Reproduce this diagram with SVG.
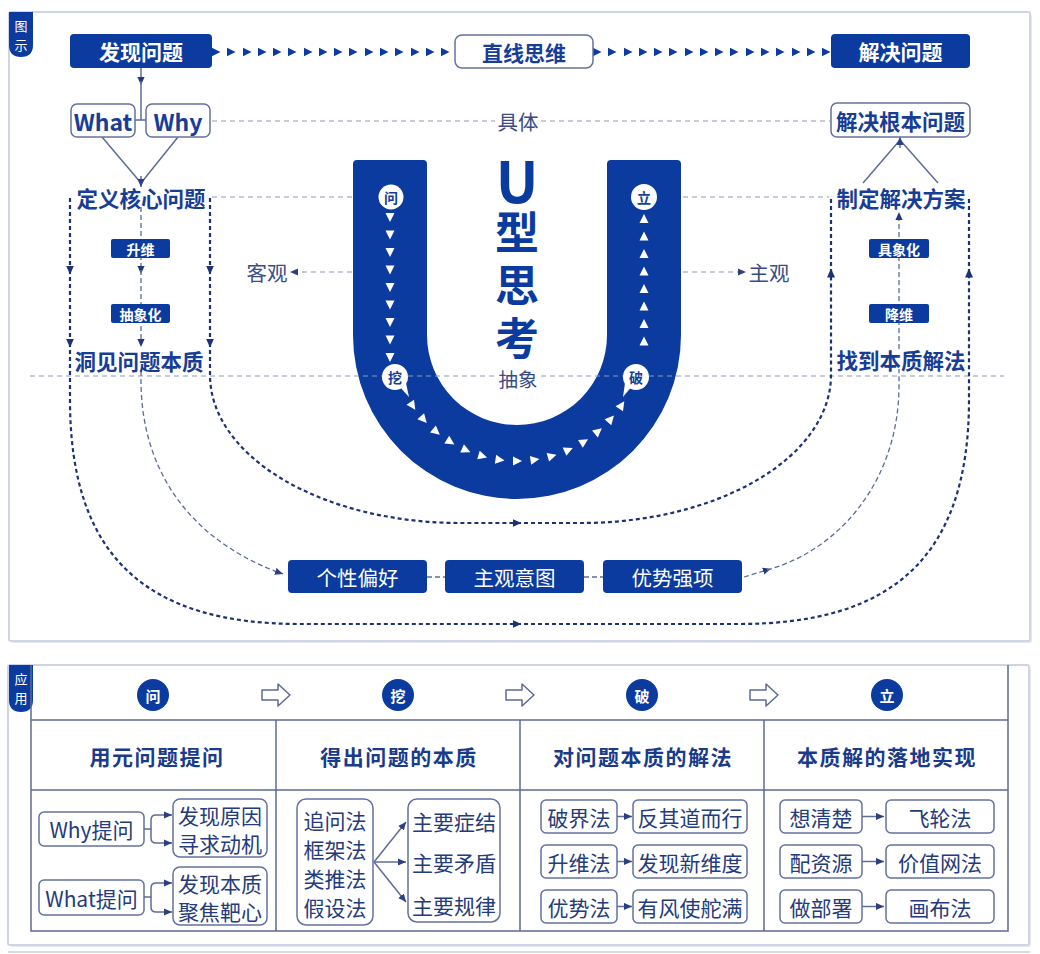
<svg xmlns="http://www.w3.org/2000/svg" width="1040" height="954" viewBox="0 0 1040 954">
<style>
text{font-family:"Noto Sans CJK SC","Noto Sans",sans-serif;text-anchor:middle;dominant-baseline:central}
.blue{fill:#0b3b9f}
.wtx{fill:#fff}
.b{font-weight:700}
.bt{fill:#173d96;font-weight:700;font-size:21.5px}
.gt{fill:#3b4c84;font-size:20.5px}
.wbox{fill:#fff;stroke:#6371a0;stroke-width:1.5}
.heavy{fill:none;stroke:#1d3272;stroke-width:2.2;stroke-dasharray:4 3}
.thin{fill:none;stroke:#5d6d98;stroke-width:1.3;stroke-dasharray:5 3}
.guide{fill:none;stroke:#8f99b7;stroke-width:1.2;stroke-dasharray:5 4}
.solid{fill:none;stroke:#5f6c98;stroke-width:1.5}
.chain{fill:none;stroke:none;marker-start:url(#tri);marker-mid:url(#tri);marker-end:url(#tri)}
.tbl{fill:none;stroke:#5c6a93;stroke-width:1.5}
.ct{fill:#243b7c;font-size:21px}
.ht{fill:#1a3a8a;font-weight:700;font-size:21px;letter-spacing:1.5px}
.panel{fill:#fff;stroke:#cfd5e7;stroke-width:2}
.shadow{fill:#e6e9f3}
.circ{fill:#fff}
.ctx{fill:#173d96;font-weight:700;font-size:14px}
.vt{writing-mode:vertical-rl;text-orientation:upright;text-anchor:start;dominant-baseline:central}
</style>
<defs>
<marker id="tri" viewBox="0 0 10 10" refX="5" refY="5" markerWidth="9" markerHeight="10" markerUnits="userSpaceOnUse" orient="auto"><path d="M0,0 L10,5 L0,10 Z" fill="#0b3b9f"/></marker>
<marker id="ah" viewBox="0 0 10 10" refX="5" refY="5" markerWidth="9" markerHeight="9" markerUnits="userSpaceOnUse" orient="auto"><path d="M0,0.5 L10,5 L0,9.5 Z" fill="#1d3272"/></marker>
<marker id="am" viewBox="0 0 10 10" refX="5" refY="5" markerWidth="8" markerHeight="8" markerUnits="userSpaceOnUse" orient="auto"><path d="M0,0.5 L10,5 L0,9.5 Z" fill="#23397c"/></marker>
<marker id="as" viewBox="0 0 10 10" refX="10" refY="5" markerWidth="8" markerHeight="8" markerUnits="userSpaceOnUse" orient="auto"><path d="M0,0.5 L10,5 L0,9.5 Z" fill="#2c3f80"/></marker>
<polygon id="wt" points="-4,-4.5 5,0 -4,4.5" fill="#fff"/>
<polygon id="wd" points="-4.5,-4 4.5,-4 0,5" fill="#fff"/>
<polygon id="wu" points="-4.5,4 4.5,4 0,-5" fill="#fff"/>
<polygon id="hol" points="-14,-5 2,-5 2,-11 14,0 2,11 2,5 -14,5" fill="#fff" stroke="#5c6a93" stroke-width="1.5" stroke-linejoin="round"/>
</defs>

<rect width="1040" height="954" fill="#fff"/>

<!-- top panel -->
<g id="panel-top">
<rect class="shadow" x="11" y="14" width="1021" height="629" rx="2"/>
<rect class="panel" x="9" y="12" width="1021" height="629" rx="2"/>
<path class="blue" d="M9,12 H33 V45 Q33,57 21,57 Q9,57 9,45 Z"/>
<text class="wtx" x="21" y="25" font-size="13">图</text>
<text class="wtx" x="21" y="44" font-size="13">示</text>
</g>

<!-- guides -->
<g id="guides">
<path class="guide" d="M212,121 H495 M541,121 H830"/>
<text class="gt" x="518" y="121">具体</text>
<path class="guide" d="M212,197 H380 M656,197 H829"/>
<path class="guide" d="M352,272 H290" marker-end="url(#as)"/>
<text class="gt" x="267" y="272">客观</text>
<path class="guide" d="M683,272 H746" marker-end="url(#as)"/>
<text class="gt" x="769" y="272">主观</text>
</g>

<!-- U shape -->
<g id="u-shape">
<path class="blue" d="M353,164 Q353,160 357,160 L423,160 Q427,160 427,164 L427,335 A90,90 0 0 0 607,335 L607,164 Q607,160 611,160 L677,160 Q681,160 681,164 L681,335 A164,164 0 0 1 353,335 Z"/>
<text class="b vt" x="517" y="153" fill="#0b3b9f"><tspan font-size="57">U</tspan><tspan font-size="44">型</tspan><tspan font-size="44" dy="9">思</tspan><tspan font-size="44" dy="9">考</tspan></text>
<use href="#wd" x="390" y="217"/><use href="#wd" x="390" y="234.5"/><use href="#wd" x="390" y="252"/>
<use href="#wd" x="390" y="269.5"/><use href="#wd" x="390" y="287"/><use href="#wd" x="390" y="304.5"/>
<use href="#wd" x="390" y="322"/><use href="#wd" x="390" y="339.5"/><use href="#wd" x="390" y="357"/>
<use href="#wu" x="644" y="219"/><use href="#wu" x="644" y="236.5"/><use href="#wu" x="644" y="254"/>
<use href="#wu" x="644" y="271.5"/><use href="#wu" x="644" y="289"/><use href="#wu" x="644" y="306.5"/>
<use href="#wu" x="644" y="324"/><use href="#wu" x="644" y="341.5"/>
<use href="#wt" transform="translate(412.5,405.5) rotate(56)"/>
<use href="#wt" transform="translate(423.4,419.3) rotate(48)"/>
<use href="#wt" transform="translate(436,431.5) rotate(40)"/>
<use href="#wt" transform="translate(450.2,441.8) rotate(32)"/>
<use href="#wt" transform="translate(465.8,450.1) rotate(24)"/>
<use href="#wt" transform="translate(482.3,456.1) rotate(16)"/>
<use href="#wt" transform="translate(499.5,459.8) rotate(8)"/>
<use href="#wt" transform="translate(517,461)"/>
<use href="#wt" transform="translate(534.5,459.8) rotate(-8)"/>
<use href="#wt" transform="translate(551.7,456.1) rotate(-16)"/>
<use href="#wt" transform="translate(568.2,450.1) rotate(-24)"/>
<use href="#wt" transform="translate(583.8,441.8) rotate(-32)"/>
<use href="#wt" transform="translate(598,431.5) rotate(-40)"/>
<use href="#wt" transform="translate(610.6,419.3) rotate(-48)"/>
<use href="#wt" transform="translate(621.5,405.5) rotate(-56)"/>
</g>

<path class="guide" d="M30,376 H495 M541,376 H1004"/>
<text class="gt" x="518" y="378" style="font-size:19.5px">抽象</text>

<g id="step-wen"><circle class="circ" cx="391" cy="197" r="12.5"/><text class="ctx" x="391" y="197">问</text></g>
<g id="step-li"><circle class="circ" cx="644" cy="197" r="13"/><text class="ctx" x="644" y="197">立</text></g>
<g id="step-wa"><circle class="circ" cx="395" cy="377" r="13"/><polygon class="circ" points="399,386 409,397 406,383"/><text class="ctx" x="395" y="377">挖</text></g>
<g id="step-po"><circle class="circ" cx="636" cy="377" r="13"/><polygon class="circ" points="632,386 623,397 625,383"/><text class="ctx" x="636" y="377">破</text></g>

<!-- connectors -->
<g id="connectors">
<path class="chain" d="M216,52 L231,52 L247,52 L262,52 L277,52 L292,52 L308,52 L323,52 L338,52 L353,52 L369,52 L384,52 L399,52 L415,52 L430,52 L445,52"/>
<path class="chain" d="M597,52 L612,52 L628,52 L643,52 L658,52 L673,52 L689,52 L704,52 L719,52 L734,52 L750,52 L765,52 L780,52 L796,52 L811,52 L826,52"/>
<path class="solid" d="M141,68 V81" marker-end="url(#am)"/>
<path class="solid" d="M141,81 V120 M135,120 H146"/>
<path class="solid" d="M102,137 L141,183 M178,137 L141,183"/>
<path class="solid" d="M141,176 V187" marker-end="url(#as)"/>
<path class="solid" d="M863,183 L900,140 M938,183 L900,140"/>
<path class="solid" d="M900,148 V137" marker-end="url(#as)"/>

<path class="heavy" d="M70,198 V270" marker-end="url(#ah)"/>
<path class="heavy" d="M70,270 V343" marker-end="url(#ah)"/>
<path class="heavy" d="M70,343 V400 C70,560 150,624 300,624 H517" marker-end="url(#ah)"/>
<path class="heavy" d="M517,624 H739 C889,624 969,560 969,400 V273" marker-end="url(#ah)"/>
<path class="heavy" d="M969,273 V198"/>

<path class="heavy" d="M210,198 V270" marker-end="url(#ah)"/>
<path class="heavy" d="M210,270 V343" marker-end="url(#ah)"/>
<path class="heavy" d="M210,343 V375 A250,148 0 0 0 460,523 H517" marker-end="url(#ah)"/>
<path class="heavy" d="M517,523 H581 A250,148 0 0 0 831,375 V273" marker-end="url(#ah)"/>
<path class="heavy" d="M831,273 V198"/>

<path class="thin" d="M141,207 V270" marker-end="url(#am)"/>
<path class="thin" d="M141,270 V343" marker-end="url(#am)"/>
<path class="thin" d="M141,371 V380 C141,480 200,545 283,574" marker-end="url(#as)"/>
<path class="thin" d="M744,577 L767,570" marker-end="url(#am)"/>
<path class="thin" d="M767,570 C840,550 899,480 899,385 V369"/>
<path class="thin" d="M899,349 V216" marker-end="url(#am)"/>
<path class="thin" d="M427,577 H445 M584,577 H603"/>
</g>

<!-- nodes -->
<g id="n-faxian"><rect class="blue" x="70" y="34" width="142" height="34" rx="4"/><text class="wtx b" x="141" y="51" font-size="21">发现问题</text></g>
<g id="n-zhixian"><rect class="wbox" x="455" y="35" width="138" height="33" rx="7"/><text class="bt" x="524" y="51.5" style="font-size:21px">直线思维</text></g>
<g id="n-jiejue"><rect class="blue" x="831" y="34" width="139" height="34" rx="4"/><text class="wtx b" x="900.5" y="51" font-size="21">解决问题</text></g>
<g id="n-what"><rect class="wbox" x="71" y="104" width="64" height="33" rx="6"/><text class="bt" x="103" y="120.5" style="font-size:23px">What</text></g>
<g id="n-why"><rect class="wbox" x="146" y="104" width="64" height="33" rx="6"/><text class="bt" x="178" y="120.5" style="font-size:23px">Why</text></g>
<g id="n-genben"><rect class="wbox" x="831" y="103" width="139" height="34" rx="6"/><text class="bt" x="900.5" y="120">解决根本问题</text></g>
<g id="n-dingyi"><text class="bt" x="141" y="197">定义核心问题</text></g>
<g id="n-zhiding"><text class="bt" x="901" y="197">制定解决方案</text></g>
<g id="n-dongjian"><text class="bt" x="139" y="360">洞见问题本质</text></g>
<g id="n-zhaodao"><text class="bt" x="901" y="359">找到本质解法</text></g>
<g id="n-shengwei"><rect class="blue" x="111" y="239" width="59" height="19" rx="2"/><text class="wtx b" x="140.5" y="248.5" font-size="14">升维</text></g>
<g id="n-chouxiang"><rect class="blue" x="111" y="304" width="59" height="19" rx="2"/><text class="wtx b" x="140.5" y="313.5" font-size="14">抽象化</text></g>
<g id="n-juxiang"><rect class="blue" x="869" y="239" width="60" height="19" rx="2"/><text class="wtx b" x="899" y="248.5" font-size="14">具象化</text></g>
<g id="n-jiangwei"><rect class="blue" x="869" y="304" width="60" height="19" rx="2"/><text class="wtx b" x="899" y="313.5" font-size="14">降维</text></g>
<g id="n-gexing"><rect class="blue" x="288" y="560" width="139" height="33" rx="4"/><text class="wtx" x="357.5" y="576.5" font-size="20.5">个性偏好</text></g>
<g id="n-zhuguan"><rect class="blue" x="445" y="560" width="139" height="33" rx="4"/><text class="wtx" x="514.5" y="576.5" font-size="20.5">主观意图</text></g>
<g id="n-youshi"><rect class="blue" x="603" y="560" width="139" height="33" rx="4"/><text class="wtx" x="672.5" y="576.5" font-size="20.5">优势强项</text></g>

<!-- bottom panel -->
<g id="panel-bottom">
<rect class="shadow" x="10" y="667" width="1021" height="280" rx="2"/>
<rect class="panel" x="8" y="665" width="1021" height="280" rx="2"/>
<path class="blue" d="M9,665 H33 V700 Q33,712 21,712 Q9,712 9,700 Z"/>
<text class="wtx" x="21" y="678" font-size="13">应</text>
<text class="wtx" x="21" y="697" font-size="13">用</text>
<path class="tbl" d="M31,665 V931 H1008 V665 M31,720 H1008 M31,790 H1008 M276,720 V931 M520,720 V931 M764,720 V931"/>
</g>
<line x1="8" y1="952" x2="1030" y2="952" stroke="#d5dae9" stroke-width="2"/>

<g id="steps">
<circle class="blue" cx="153" cy="695" r="16"/><text class="wtx b" x="153" y="695" font-size="15">问</text>
<circle class="blue" cx="398" cy="695" r="16"/><text class="wtx b" x="398" y="695" font-size="15">挖</text>
<circle class="blue" cx="642" cy="695" r="16"/><text class="wtx b" x="642" y="695" font-size="15">破</text>
<circle class="blue" cx="887" cy="695" r="16"/><text class="wtx b" x="887" y="695" font-size="15">立</text>
<use href="#hol" x="276" y="695"/><use href="#hol" x="520" y="695"/><use href="#hol" x="764" y="695"/>
</g>
<g id="headers">
<text class="ht" x="157" y="756">用元问题提问</text>
<text class="ht" x="399" y="756">得出问题的本质</text>
<text class="ht" x="643" y="756">对问题本质的解法</text>
<text class="ht" x="887" y="756">本质解的落地实现</text>
</g>

<g id="col1">
<g id="n-whyq"><rect class="wbox" x="39" y="812" width="105" height="34" rx="5"/><text class="ct" x="91.5" y="829">Why提问</text></g>
<g id="n-yuanyin"><rect class="wbox" x="173" y="799" width="94" height="58" rx="7"/><text class="ct" x="220" y="815">发现原因</text><text class="ct" x="220" y="843">寻求动机</text></g>
<g id="n-whatq"><rect class="wbox" x="39" y="880" width="105" height="35" rx="5"/><text class="ct" x="91.5" y="897.5">What提问</text></g>
<g id="n-benzhi"><rect class="wbox" x="173" y="867" width="94" height="58" rx="7"/><text class="ct" x="220" y="883">发现本质</text><text class="ct" x="220" y="911">聚焦靶心</text></g>
</g>
<g id="col2">
<g id="n-fa"><rect class="wbox" x="297" y="799" width="76" height="126" rx="9"/><text class="ct" x="335" y="820">追问法</text><text class="ct" x="335" y="849">框架法</text><text class="ct" x="335" y="878">类推法</text><text class="ct" x="335" y="907">假设法</text></g>
<g id="n-zhuyao"><rect class="wbox" x="408" y="799" width="92" height="123" rx="9"/><text class="ct" x="454" y="821">主要症结</text><text class="ct" x="454" y="862">主要矛盾</text><text class="ct" x="454" y="905">主要规律</text></g>
</g>
<g id="col3">
<g id="n-pojie"><rect class="wbox" x="541" y="800" width="76" height="33" rx="5"/><text class="ct" x="579" y="816.5">破界法</text></g>
<g id="n-sheng"><rect class="wbox" x="541" y="845" width="76" height="33" rx="5"/><text class="ct" x="579" y="861.5">升维法</text></g>
<g id="n-you"><rect class="wbox" x="541" y="890" width="76" height="33" rx="5"/><text class="ct" x="579" y="906.5">优势法</text></g>
<g id="n-fanqi"><rect class="wbox" x="633" y="800" width="114" height="33" rx="5"/><text class="ct" x="690" y="816.5">反其道而行</text></g>
<g id="n-xinwei"><rect class="wbox" x="633" y="845" width="114" height="33" rx="5"/><text class="ct" x="690" y="861.5">发现新维度</text></g>
<g id="n-youfeng"><rect class="wbox" x="633" y="890" width="114" height="33" rx="5"/><text class="ct" x="690" y="906.5">有风使舵满</text></g>
</g>
<g id="col4">
<g id="n-xiang"><rect class="wbox" x="780" y="800" width="82" height="33" rx="5"/><text class="ct" x="821" y="816.5">想清楚</text></g>
<g id="n-pei"><rect class="wbox" x="780" y="845" width="82" height="33" rx="5"/><text class="ct" x="821" y="861.5">配资源</text></g>
<g id="n-zuo"><rect class="wbox" x="780" y="890" width="82" height="33" rx="5"/><text class="ct" x="821" y="906.5">做部署</text></g>
<g id="n-feilun"><rect class="wbox" x="886" y="800" width="108" height="33" rx="5"/><text class="ct" x="940" y="816.5">飞轮法</text></g>
<g id="n-jiazhi"><rect class="wbox" x="886" y="845" width="108" height="33" rx="5"/><text class="ct" x="940" y="861.5">价值网法</text></g>
<g id="n-huabu"><rect class="wbox" x="886" y="890" width="108" height="33" rx="5"/><text class="ct" x="940" y="906.5">画布法</text></g>
</g>
<g id="connectors-bottom">
<path class="solid" d="M144,829 H151 V820 Q151,815 156,815 H172" marker-end="url(#as)"/>
<path class="solid" d="M151,829 V838 Q151,843 156,843 H172" marker-end="url(#as)"/>
<path class="solid" d="M144,897 H151 V888 Q151,883 156,883 H172" marker-end="url(#as)"/>
<path class="solid" d="M151,897 V907 Q151,912 156,912 H172" marker-end="url(#as)"/>
<path class="solid" d="M374,862 L406,822" marker-end="url(#as)"/>
<path class="solid" d="M374,862 H406" marker-end="url(#as)"/>
<path class="solid" d="M374,862 L406,902" marker-end="url(#as)"/>
<path class="solid" d="M617,816.5 H632" marker-end="url(#as)"/>
<path class="solid" d="M617,861.5 H632" marker-end="url(#as)"/>
<path class="solid" d="M617,906.5 H632" marker-end="url(#as)"/>
<path class="solid" d="M862,816.5 H884" marker-end="url(#as)"/>
<path class="solid" d="M862,861.5 H884" marker-end="url(#as)"/>
<path class="solid" d="M862,906.5 H884" marker-end="url(#as)"/>
</g>
</svg>
